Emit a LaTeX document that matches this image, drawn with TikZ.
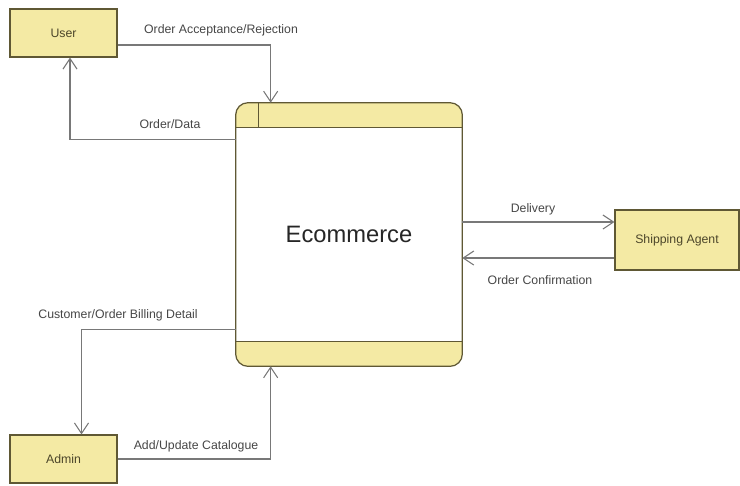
\documentclass[tikz,border=0pt]{standalone}
\usepackage{fontspec}
\setmainfont{Liberation Sans}
\usetikzlibrary{arrows.meta}
\definecolor{boxfill}{RGB}{244,234,164}
\definecolor{boxline}{RGB}{95,88,52}
\definecolor{flowgray}{RGB}{120,120,120}
\definecolor{labelgray}{RGB}{70,70,70}
\tikzset{
  entity/.style={draw=boxline, line width=0.7pt, fill=boxfill, text=boxline!80!black,
    font=\fontsize{7}{8}\selectfont, inner sep=0pt},
  flow/.style={draw=flowgray, line width=0.6pt, -{Straight Barb[length=6pt,width=8pt]}},
  flowlabel/.style={text=labelgray, font=\fontsize{7}{8}\selectfont, inner sep=1pt}
}
\begin{document}
\begin{tikzpicture}[x=0.02cm, y=-0.02cm]
\useasboundingbox (0,0) rectangle (740,485);

% external entities
\node[entity, minimum width=2.14cm, minimum height=0.96cm] (user) at (63.5,33) {User};
\node[entity, minimum width=2.14cm, minimum height=0.96cm] (admin) at (63.5,459) {Admin};
\node[entity, minimum width=2.48cm, minimum height=1.2cm] (ship) at (677,240) {Shipping Agent};

% process
\node[fill=white, rounded corners=7pt, minimum width=4.52cm, minimum height=5.26cm, inner sep=0pt,
      font=\fontsize{13.5}{15}\selectfont, text=black!85] (ecom) at (349,234.5) {Ecommerce};
\begin{scope}
  \clip[rounded corners=7pt] (ecom.north west) rectangle (ecom.south east);
  \fill[boxfill] (ecom.north west) rectangle ([yshift=-0.5cm]ecom.north east);
  \fill[boxfill] ([yshift=0.5cm]ecom.south west) rectangle (ecom.south east);
\end{scope}
\draw[boxline, line width=0.7pt, rounded corners=7pt] (ecom.north west) rectangle (ecom.south east);
\draw[boxline, line width=0.7pt] ([yshift=-0.5cm]ecom.north west) -- ([yshift=-0.5cm]ecom.north east);
\draw[boxline, line width=0.7pt] ([yshift=0.5cm]ecom.south west) -- ([yshift=0.5cm]ecom.south east);
\draw[boxline, line width=0.7pt] ([xshift=0.46cm]ecom.north west) -- ([xshift=0.46cm,yshift=-0.5cm]ecom.north west);

% data flows
\draw[flow] ([yshift=-0.24cm]user.east) -| ([xshift=0.7cm]ecom.north west);
\draw[flow] ([yshift=-0.74cm]ecom.north west) -| ([xshift=0.13cm]user.south);

\coordinate (dlv) at ([yshift=0.36cm]ship.west);
\coordinate (cnf) at ([yshift=-0.36cm]ship.west);
\draw[flow] (dlv -| ecom.east) -- (dlv);
\draw[flow] (cnf) -- (cnf -| ecom.east);

\draw[flow] ([yshift=0.74cm]ecom.south west) -| ([xshift=0.36cm]admin.north);
\draw[flow] (admin.east) -| ([xshift=0.7cm]ecom.south west);

% labels
\node[flowlabel] (lacc) at (221,30) {Order Acceptance/Rejection};
\node[flowlabel] (ldata) at (170,124) {Order/Data};
\node[flowlabel] (ldlv) at (533,209) {Delivery};
\node[flowlabel] (lcnf) at (540,280) {Order Confirmation};
\node[flowlabel] (lbill) at (118,315) {Customer/Order Billing Detail};
\node[flowlabel] (lcat) at (196,446) {Add/Update Catalogue};

\end{tikzpicture}
\end{document}
